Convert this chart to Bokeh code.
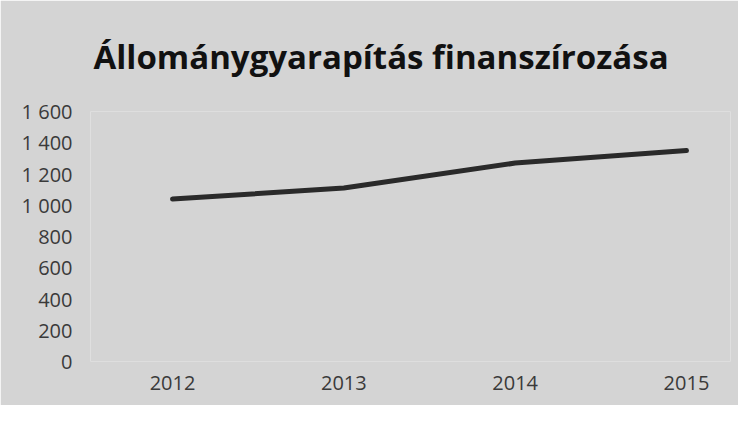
from bokeh.plotting import figure
from bokeh.models import Range1d, FixedTicker
from bokeh.embed import file_html
from bokeh.resources import INLINE

years = [2012, 2013, 2014, 2015]
values = [1040, 1110, 1270, 1350]
y_ticks = [0, 200, 400, 600, 800, 1000, 1200, 1400, 1600]
y_tick_labels = ["0", "200", "400", "600", "800", "1 000", "1 200", "1 400", "1 600"]
title_text = "Állománygyarapítás finanszírozása"

bg = "#d4d4d4"
p = figure(width=738, height=405, output_backend="svg", toolbar_location=None,
           x_range=Range1d(2011.521, 2015.257), y_range=Range1d(0, 1600),
           min_border_left=90, min_border_right=8, min_border_top=111, min_border_bottom=44,
           background_fill_color=bg, border_fill_color=bg, outline_line_color=None)

p.title.text = title_text
p.title.align = "left"
p.title.vertical_align = "top"
p.title.offset = 3
p.title.standoff = 62
p.title.text_font = "Open Sans"
p.title.text_font_style = "bold"
p.title.text_font_size = "33px"
p.title.text_color = "#111111"

p.line(years, values, line_color="#2a2a2a", line_width=5, line_cap="round")

p.xgrid.visible = False
p.ygrid.visible = False
for ax in (p.xaxis[0], p.yaxis[0]):
    ax.axis_line_color = None
    ax.major_tick_line_color = None
    ax.minor_tick_line_color = None
    ax.major_label_text_font = "Open Sans"
    ax.major_label_text_font_size = "20px"
    ax.major_label_text_color = "#3a3a3a"

p.xaxis.ticker = FixedTicker(ticks=years)
p.xaxis.major_label_overrides = {y: str(y) for y in years}
p.xaxis.major_label_standoff = 8
p.yaxis.ticker = FixedTicker(ticks=y_ticks)
p.yaxis.major_label_overrides = {t: l for t, l in zip(y_ticks, y_tick_labels)}
p.yaxis.major_label_standoff = 12

open("out.html", "w").write(file_html(p, INLINE))
